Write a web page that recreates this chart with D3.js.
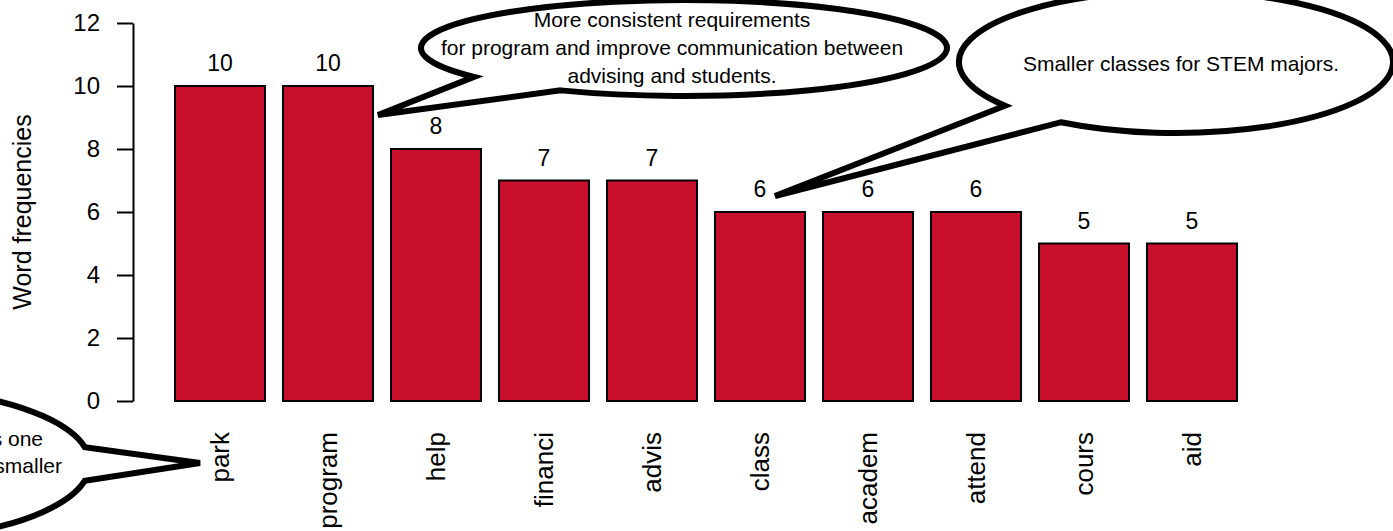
<!DOCTYPE html>
<html>
<head>
<meta charset="utf-8">
<script src="https://cdn.jsdelivr.net/npm/d3@7/dist/d3.min.js"></script>
<style>
  html, body { margin: 0; padding: 0; background: #fff; }
  svg { display: block; }
  text { font-family: "Liberation Sans", Arial, Helvetica, sans-serif; fill: #000; }
</style>
</head>
<body>
<svg id="chart" width="1393" height="531"></svg>
<script>
// ---- data ----
const categories = ["park", "program", "help", "financi", "advis", "class", "academ", "attend", "cours", "aid"];
const frequencies = [10, 10, 8, 7, 7, 6, 6, 6, 5, 5];
const yTicks = [0, 2, 4, 6, 8, 10, 12];
const yTitle = "Word frequencies";
const bubble1Lines = ["More consistent requirements", "for program and improve communication between", "advising and students."];
const bubble2Lines = ["Smaller classes for STEM majors."];
const bubble3Lines = ["Parking is one", "of the issues, and smaller"];

// ---- layout ----
const svg = d3.select("#chart");

const y = d3.scaleLinear().domain([0, 12]).range([401, 23]);
const x = d3.scaleBand().domain(categories).range([175, 1237]).paddingInner(1/6).paddingOuter(0);

// bars
svg.append("g").selectAll("rect").data(categories).join("rect")
  .attr("x", d => x(d))
  .attr("y", (d, i) => y(frequencies[i]))
  .attr("width", x.bandwidth())
  .attr("height", (d, i) => y(0) - y(frequencies[i]))
  .attr("fill", "#C8102E")
  .attr("stroke", "#000")
  .attr("stroke-width", 2);

// value labels
svg.append("g").selectAll("text").data(categories).join("text")
  .attr("x", d => x(d) + x.bandwidth() / 2)
  .attr("y", (d, i) => y(frequencies[i]) - 23)
  .attr("dy", "0.36em")
  .attr("text-anchor", "middle")
  .attr("font-size", 23)
  .text((d, i) => frequencies[i]);

// y axis
const yAxis = svg.append("g").attr("transform", "translate(133,0)")
  .call(d3.axisLeft(y).tickValues(yTicks).tickSize(16).tickSizeOuter(0).tickPadding(17).tickFormat(d3.format("d")));
yAxis.select(".domain").attr("stroke", "#000").attr("stroke-width", 2);
yAxis.selectAll(".tick line").attr("stroke", "#000").attr("stroke-width", 2);
yAxis.selectAll(".tick text").attr("font-size", 24).attr("font-family", "Liberation Sans, Arial, sans-serif").attr("fill", "#000");

// x labels (rotated)
svg.append("g").selectAll("text").data(categories).join("text")
  .attr("transform", d => `translate(${x(d) + x.bandwidth() / 2},432) rotate(-90)`)
  .attr("dy", "0.33em")
  .attr("text-anchor", "end")
  .attr("font-size", 26)
  .text(d => d);

// y title
svg.append("text")
  .attr("transform", "translate(31,212) rotate(-90)")
  .attr("text-anchor", "middle")
  .attr("font-size", 25)
  .text(yTitle);

// ---- speech bubbles ----
function bubblePath(cx, cy, rx, ry, tStart, tEnd, tip) {
  const r = Math.PI / 180;
  const p = t => [cx + rx * Math.cos(t * r), cy + ry * Math.sin(t * r)];
  const a = p(tStart), b = p(tEnd);
  return `M${a[0]},${a[1]} A${rx},${ry} 0 1 1 ${b[0]},${b[1]} L${tip[0]},${tip[1]} Z`;
}
const bubbles = [
  { cx: 684, cy: 48, rx: 263, ry: 48, t0: 143, t1: 478, tip: [378, 115], lines: bubble1Lines, tx: 672, ty: 19, lh: 28, anchor: "middle" },
  { cx: 1176, cy: 62, rx: 217, ry: 71, t0: 142, t1: 482, tip: [775, 196], lines: bubble2Lines, tx: 1181, ty: 63, lh: 28, anchor: "middle" },
  { cx: -120, cy: 464, rx: 210, ry: 76, t0: 12.7, t1: 347.3, tip: [200, 463], lines: bubble3Lines, tx: null, ty: 438, lh: 27, anchor: "end" }
];
const bg = svg.append("g");
const ends3 = [43, 62];
bubbles.forEach(bb => {
  bg.append("path")
    .attr("d", bubblePath(bb.cx, bb.cy, bb.rx, bb.ry, bb.t0, bb.t1, bb.tip))
    .attr("fill", "#fff")
    .attr("stroke", "#000")
    .attr("stroke-width", 6)
    .attr("stroke-linejoin", "miter");
  bb.lines.forEach((ln, i) => {
    bg.append("text")
      .attr("x", bb.anchor === "end" ? ends3[i] : bb.tx)
      .attr("y", bb.ty + i * bb.lh)
      .attr("dy", "0.36em")
      .attr("text-anchor", bb.anchor)
      .attr("font-size", 21)
      .text(ln);
  });
});
</script>
</body>
</html>
